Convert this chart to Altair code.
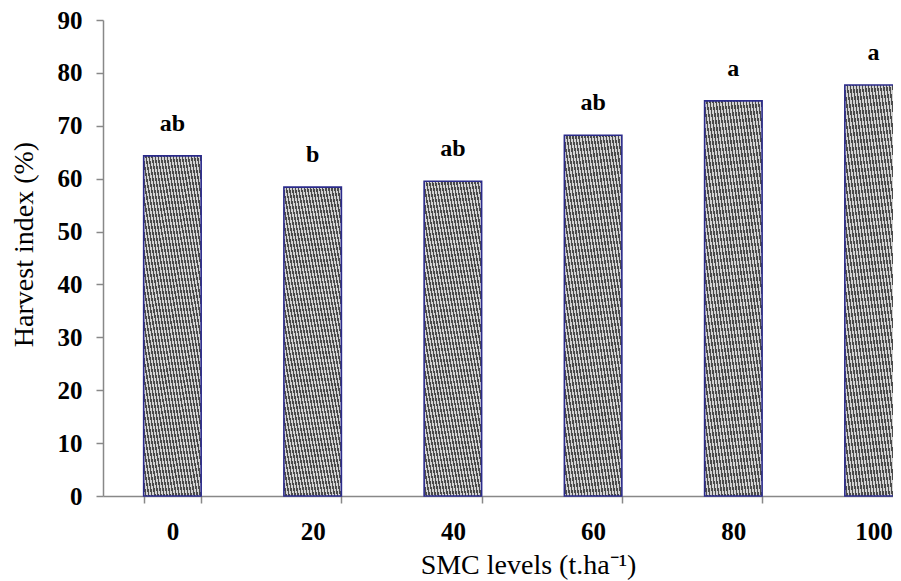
import altair as alt
import pandas as pd

levels = ["0", "20", "40", "60", "80", "100"]
harvest_index = [64.3, 58.4, 59.5, 68.2, 74.7, 77.7]
letters = ["ab", "b", "ab", "ab", "a", "a"]
y_ticks = [0, 10, 20, 30, 40, 50, 60, 70, 80, 90]

df = pd.DataFrame({"level": levels, "hi": harvest_index, "letter": letters})

# hatch-like fill built as a striped linear gradient
N = 38
dark, light = "#4a4a4a", "#d2d2d2"
stops = []
for k in range(N):
    a, b, c = k / N, (k + 0.5) / N, (k + 1) / N
    stops += [alt.GradientStop(color=dark, offset=a), alt.GradientStop(color=dark, offset=b),
              alt.GradientStop(color=light, offset=b), alt.GradientStop(color=light, offset=c)]
hatch = alt.LinearGradient(gradient="linear", stops=stops, x1=1, y1=0, x2=0, y2=1)

SERIF = "Liberation Serif"

x_enc = alt.X("level:N", sort=levels,
              scale=alt.Scale(range=[0, 840], paddingInner=0.59, paddingOuter=0.29),
              axis=alt.Axis(title="SMC levels (t.ha⁻¹)", labelAngle=0, tickBand="extent",
                            domainColor="#888888", domainWidth=1.5, tickColor="#888888",
                            tickWidth=1.5, tickSize=7, labelFont=SERIF, labelFontWeight="bold",
                            labelFontSize=25, labelColor="black", labelPadding=16,
                            titleFont=SERIF, titleFontWeight="normal", titleFontSize=28,
                            titleColor="black", titleBaseline="alphabetic", titleY=77, titleX=425))

y_enc = alt.Y("hi:Q", scale=alt.Scale(domain=[0, 90], nice=False),
              axis=alt.Axis(title="Harvest index (%)", values=y_ticks, grid=False,
                            domainColor="#888888", domainWidth=1.5, tickColor="#888888",
                            tickWidth=1.5, tickSize=7, labelFont=SERIF, labelFontWeight="bold",
                            labelFontSize=25, labelColor="black", labelPadding=14,
                            titleFont=SERIF, titleFontWeight="normal", titleFontSize=28,
                            titleColor="black", titleBaseline="alphabetic", titleAngle=-90,
                            titleX=-71, titleY=224, titleAlign="center"))

bars = alt.Chart(df).mark_bar(fill=hatch, stroke="#2b2b8c", strokeWidth=1.6).encode(x=x_enc, y=y_enc)

text = alt.Chart(df).mark_text(font=SERIF, fontWeight="bold", fontSize=24, color="black",
                               baseline="alphabetic", dy=-25).encode(
    x=alt.X("level:N", sort=levels), y="hi:Q", text="letter:N")

chart = (bars + text).properties(
    width=790, height=476,
    autosize=alt.AutoSizeParams(type="none"),
    padding={"left": 95, "top": 12, "right": 0, "bottom": 85},
).configure_view(stroke=None)

chart.save("out.html", embed_options={"renderer": "svg", "actions": False})
